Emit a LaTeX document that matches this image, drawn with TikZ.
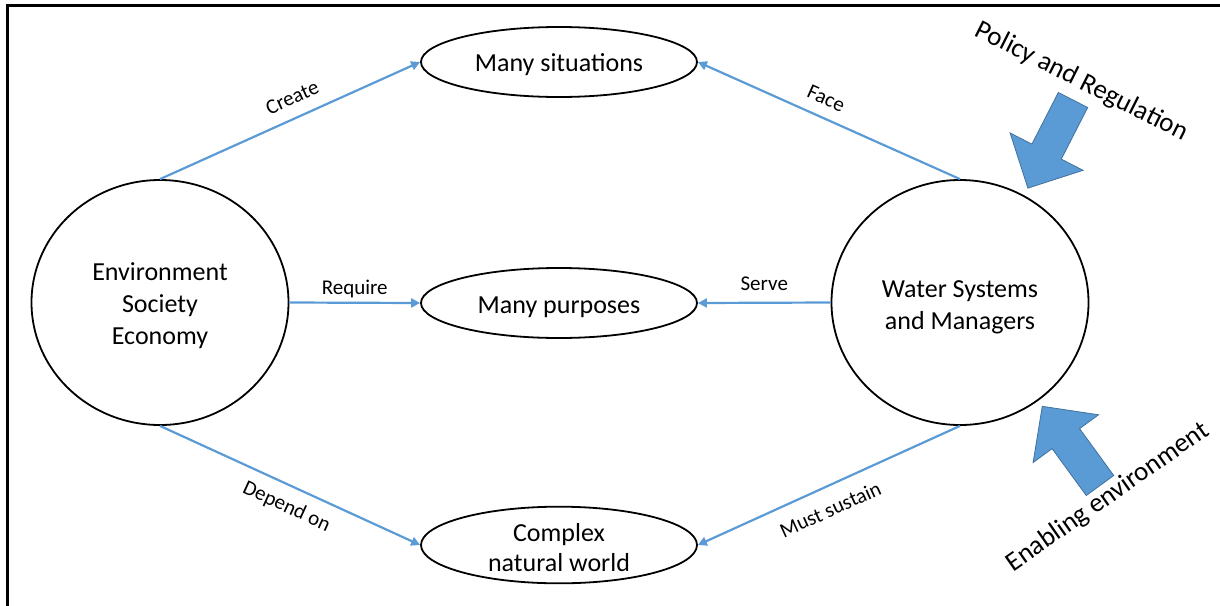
\documentclass[tikz,border=0pt]{standalone}
\usepackage{fontspec}
\setmainfont{Carlito}
\usetikzlibrary{shapes.geometric,arrows.meta}
\definecolor{linkblue}{HTML}{5B9BD5}
\definecolor{blockedge}{HTML}{41719C}
% invisible strut that sets the height of a first text line
\newcommand{\topstrut}[1]{\rule{0pt}{#1}}
\begin{document}
\begin{tikzpicture}[x=1pt,y=-1pt,
  every node/.style={inner sep=0pt},
  hub/.style={draw, line width=1.8pt, ellipse, minimum width=257pt, minimum height=245pt,
    align=center, font=\fontsize{26}{32}\selectfont},
  topic/.style={draw, line width=1.8pt, ellipse, minimum width=276pt, minimum height=70pt,
    align=center, font=\fontsize{26}{30}\selectfont},
  link/.style={draw=linkblue, line width=2.2pt, -{Triangle[length=9pt,width=9pt]}},
  linklabel/.style={font=\fontsize{21}{24}\selectfont},
  blockarrow/.style={fill=linkblue, draw=blockedge, line width=0.8pt, line join=miter},
  sidelabel/.style={font=\fontsize{27}{30}\selectfont, anchor=base}
]
\useasboundingbox (0,0) rectangle (1220,605);

% frame
\draw[line width=3pt] (7,608) -- (7,5) -- (1222,5);

% main nodes
\node[hub] (ess) at (160,302.5) {\topstrut{25pt}Environment\\Society\\Economy};
\node[hub] (wsm) at (960,302.5) {\topstrut{27pt}Water Systems\\and Managers};
\node[topic] (sit) at (559,62) {\topstrut{23pt}Many situations};
\node[topic] (pur) at (559,303) {\topstrut{25pt}Many purposes};
\node[topic] (nat) at (559,545) {\topstrut{24pt}Complex\\natural world};

% connectors
\draw[link] (ess.north) -- node[linklabel, pos=0.54, sloped, anchor=south, inner sep=12pt] {Create} (sit.west);
\draw[link] (wsm.north) -- node[linklabel, pos=0.54, sloped, anchor=south, inner sep=11pt] {Face} (sit.east);
\draw[link] (ess.east) -- node[linklabel, midway, anchor=base, yshift=8pt] {Require} (pur.west);
\draw[link] (wsm.west) -- node[linklabel, midway, anchor=base, yshift=12pt] {Serve} (pur.east);
\draw[link] (ess.south) -- node[linklabel, pos=0.52, sloped, anchor=north, inner sep=11pt] {Depend on} (nat.west);
\draw[link] (wsm.south) -- node[linklabel, pos=0.53, sloped, anchor=north, inner sep=14pt] {Must sustain} (nat.east);

% outside influences
\begin{scope}[shift={(1073,100)}, rotate=242.9]
  \draw[blockarrow] (0,16.5) -- (58,16.5) -- (58,41) -- (99,0) -- (58,-41) -- (58,-16.5) -- (0,-16.5) -- cycle;
\end{scope}
\begin{scope}[shift={(1100,485.5)}, rotate=126.1]
  \draw[blockarrow] (0,17) -- (58,17) -- (58,40.5) -- (98,0) -- (58,-40.5) -- (58,-17) -- (0,-17) -- cycle;
\end{scope}
\node[sidelabel, rotate=-26.7] (policy) at (1078.5,88) {Policy and Regulation};
\node[sidelabel, rotate=35] (enabling) at (1112,503) {Enabling environment};
\end{tikzpicture}
\end{document}
